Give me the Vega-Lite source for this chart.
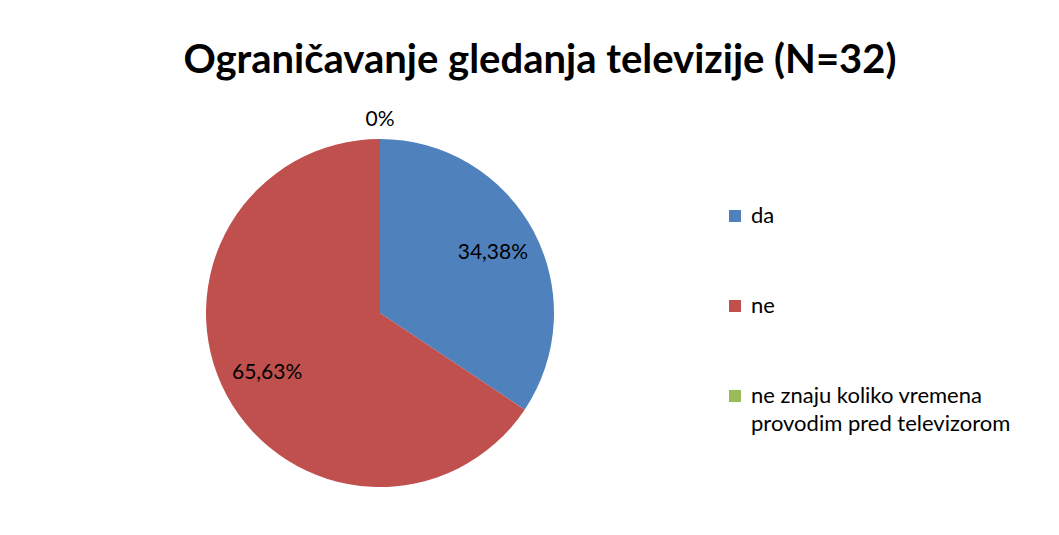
{
  "$schema": "https://vega.github.io/schema/vega-lite/v6.json",
  "width": 348,
  "height": 348,
  "autosize": {"type": "none"},
  "padding": {"left": 206, "top": 139, "right": 505, "bottom": 48},
  "background": "white",
  "title": {
    "text": "Ograničavanje gledanja televizije (N=32)",
    "font": "Lato",
    "fontSize": 40,
    "fontWeight": "bold",
    "color": "black",
    "anchor": "middle",
    "frame": "group",
    "dx": 160,
    "dy": 35,
    "baseline": "alphabetic",
    "offset": 31
  },
  "data": {
    "values": [
      {"odgovor": "da", "broj": 11, "postotak": "34,38%"},
      {"odgovor": "ne", "broj": 21, "postotak": "65,63%"},
      {"odgovor": "ne znaju koliko vremena provodim pred televizorom", "broj": 0, "postotak": "0%"}
    ]
  },
  "encoding": {
    "theta": {"field": "broj", "type": "quantitative", "stack": true}
  },
  "layer": [
    {
      "mark": {"type": "arc"},
      "encoding": {
        "color": {
          "field": "odgovor",
          "type": "nominal",
          "scale": {
            "domain": ["da", "ne", "ne znaju koliko vremena provodim pred televizorom"],
            "range": ["#4F81BD", "#C0504D", "#9BBB59"]
          },
          "legend": {
            "title": null,
            "orient": "none",
            "legendX": 518,
            "legendY": 66,
            "padding": 0,
            "symbolType": "square",
            "symbolSize": 144,
            "symbolStrokeWidth": 0,
            "symbolOpacity": 1,
            "labelFont": "Lato",
            "labelFontSize": 22,
            "labelColor": "black",
            "labelOffset": 5,
            "labelLimit": 400,
            "rowPadding": 68,
            "labelExpr": "datum.label == 'ne znaju koliko vremena provodim pred televizorom' ? ['ne znaju koliko vremena', 'provodim pred televizorom'] : datum.label",
            "encode": {"labels": {"update": {"lineHeight": {"value": 28}}}}
          }
        }
      }
    },
    {
      "transform": [{"filter": "datum.broj > 0"}],
      "mark": {"type": "text", "font": "Lato", "fontSize": 21, "color": "black", "radius": 128},
      "encoding": {
        "detail": {"field": "odgovor"},
        "text": {"field": "postotak"}
      }
    },
    {
      "transform": [{"filter": "datum.broj == 0"}],
      "mark": {"type": "text", "font": "Lato", "fontSize": 21, "color": "black", "radius": 193},
      "encoding": {
        "detail": {"field": "odgovor"},
        "text": {"field": "postotak"}
      }
    }
  ],
  "config": {"view": {"stroke": null}}
}
